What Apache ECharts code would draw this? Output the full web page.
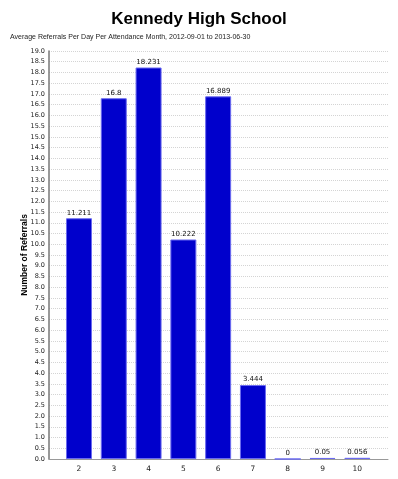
<!DOCTYPE html>
<html lang="en">
<head>
    <meta charset="UTF-8">
    <title>Kennedy High School</title>
    <script src="https://cdn.jsdelivr.net/npm/echarts@6/dist/echarts.min.js"></script>
    <style>
        html, body { margin: 0; padding: 0; background: #fff; }
        #main { width: 398px; height: 479px; }
    </style>
</head>
<body>
    <div id="main"></div>
    <script type="text/javascript">
        // attendance months
        const months = [2, 3, 4, 5, 6, 7, 8, 9, 10];
        // average referrals per day
        const referrals = [11.211, 16.8, 18.231, 10.222, 16.889, 3.444, 0, 0.05, 0.056];

        const chart = echarts.init(document.getElementById('main'));
        const option = {
            animation: false,
            title: [{
                text: 'Kennedy High School',
                left: 'center',
                top: 6,
                textStyle: { fontFamily: 'Liberation Sans', fontSize: 17, fontWeight: 'bold', color: '#000' }
            }, {
                text: 'Average Referrals Per Day Per Attendance Month, 2012-09-01 to 2013-06-30',
                left: 5,
                top: 29,
                textStyle: { fontFamily: 'Liberation Sans', fontSize: 7, fontWeight: 'normal', color: '#222' }
            }],
            grid: { left: 49, right: 10, top: 51, bottom: 20 },
            xAxis: {
                type: 'value',
                min: 1.138,
                max: 10.882,
                axisLine: { lineStyle: { color: '#999', width: 1 } },
                axisTick: { show: false },
                splitLine: { show: false },
                axisLabel: {
                    customValues: months,
                    fontFamily: 'DejaVu Sans', fontSize: 7.5, color: '#222', margin: 6
                }
            },
            yAxis: {
                type: 'value',
                min: 0,
                max: 19,
                interval: 0.5,
                name: 'Number of Referrals',
                nameLocation: 'middle',
                nameRotate: 90,
                nameGap: 20,
                nameMoveOverlap: false,
                nameTextStyle: { fontFamily: 'Liberation Sans', fontSize: 8.5, fontWeight: 'bold', color: '#000' },
                axisLine: { show: true, lineStyle: { color: '#777', width: 1.5 } },
                axisTick: { show: false },
                axisLabel: {
                    formatter: v => v.toFixed(1),
                    fontFamily: 'DejaVu Sans', fontSize: 6.5, color: '#222', margin: 4
                },
                splitLine: { lineStyle: { color: '#d4d4d4', type: 'dotted', width: 1 } }
            },
            series: [{
                type: 'bar',
                barWidth: 26,
                data: months.map((m, i) => [m, referrals[i]]),
                itemStyle: { color: '#0000cc', borderColor: '#6b6bf0', borderWidth: 1 },
                label: {
                    show: true,
                    position: 'top',
                    distance: 2,
                    formatter: p => String(p.value[1]),
                    fontFamily: 'DejaVu Sans', fontSize: 7, color: '#111'
                }
            }]
        };
        chart.setOption(option);
    </script>
</body>
</html>
